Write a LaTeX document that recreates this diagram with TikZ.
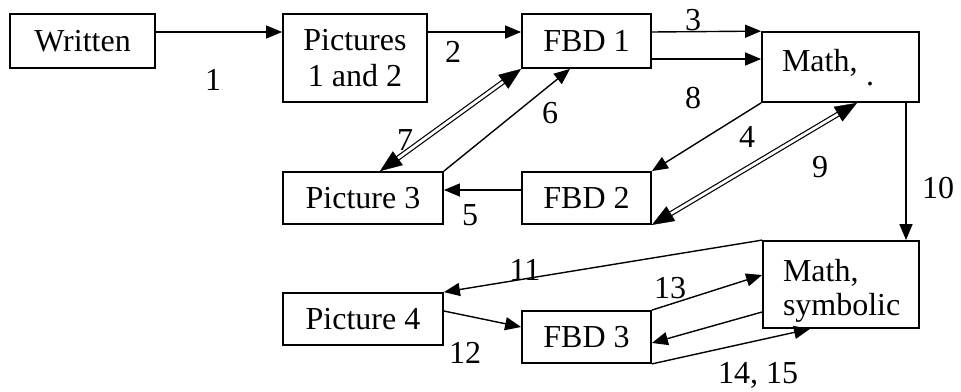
\documentclass[tikz,border=0pt]{standalone}
\usepackage{fontspec}
\setmainfont{Liberation Serif}
\usepackage{tikz}
\usetikzlibrary{arrows.meta,positioning}

\begin{document}
\begin{tikzpicture}[
  x=1pt, y=-1pt,
  font=\fontsize{32}{36}\selectfont,
  box/.style={draw, line width=1.8pt, inner sep=0pt, align=center},
  mathbox/.style={draw, line width=1.8pt, inner xsep=20pt, inner ysep=0pt, align=left},
  arr/.style={-{Triangle[length=16pt,width=13pt]}, line width=1.4pt},
  dblline/.style={double, double distance=2.8pt, line width=1.2pt,
                  shorten <=19pt, shorten >=19pt},
  dbltips/.style={tips, {Triangle[length=22pt,width=17pt]}-{Triangle[length=22pt,width=17pt]}},
  num/.style={inner sep=0pt}]
\useasboundingbox (0,0) rectangle (961,391);
% top row
\node[box, minimum width=145pt, minimum height=54pt] (written) at (82.5,41) {Written};
\node[box, minimum width=144pt, minimum height=88pt] (pic12) at (355,58) {Pictures\\1 and 2};
\node[box, minimum width=129pt, minimum height=54pt] (fbd1) at (586.5,41) {FBD 1};
\node[mathbox, minimum width=157pt, minimum height=70pt, text width=117pt] (mathnum) at (840.5,67)
  {\raisebox{-4pt}[\height][\depth]{\begin{tabular}{@{}l@{}}Math,\\[-22pt]\hspace*{84pt}.\end{tabular}}};
% middle row
\node[box, minimum width=160pt, minimum height=52pt] (pic3) at (363,198) {Picture 3};
\node[box, minimum width=129pt, minimum height=52pt] (fbd2) at (586.5,198) {FBD 2};
% bottom rows
\node[mathbox, minimum width=156pt, minimum height=87pt, text width=116pt] (mathsym) at (841,284.5)
  {\raisebox{-7pt}[\height][\depth]{\begin{tabular}{@{}l@{}}Math,\\[-2pt]symbolic\end{tabular}}};
\node[box, minimum width=160pt, minimum height=52pt] (pic4) at (363,319) {Picture 4};
\node[box, minimum width=129pt, minimum height=52pt] (fbd3) at (586.5,337) {FBD 3};
% arrows
\draw[arr] ([yshift=9pt]written.east) -- ([yshift=26pt]pic12.west);
\draw[arr] ([yshift=26pt]pic12.east) -- ([yshift=9pt]fbd1.west);
\draw[arr] ([yshift=9pt]fbd1.east) -- (mathnum.north west);
\draw[arr] ([yshift=-18pt]fbd1.east) -- ([yshift=8pt]mathnum.west);
\draw[arr] (mathnum.south west) -- (fbd2.north east);
\draw[dblline] (fbd2.south east) -- ([xshift=16.5pt]mathnum.south);
\path[dbltips] (fbd2.south east) -- ([xshift=16.5pt]mathnum.south);
\draw[arr] ([yshift=8pt]fbd2.west) -- ([yshift=8pt]pic3.east);
\draw[arr] (pic3.north east) -- ([xshift=-16.5pt]fbd1.south);
\draw[dblline] ([xshift=17pt]pic3.north) -- (fbd1.south west);
\path[dbltips] ([xshift=17pt]pic3.north) -- (fbd1.south west);
\draw[arr] ([xshift=65.5pt]mathnum.south) -- ([xshift=65pt]mathsym.north);
\draw[arr] (mathsym.north west) -- (pic4.north east);
\draw[arr] ([yshift=8pt]pic4.east) -- ([yshift=10pt]fbd3.west);
\draw[arr] (fbd3.north east) -- ([yshift=9.5pt]mathsym.west);
\draw[arr] ([yshift=-27.5pt]mathsym.west) -- ([yshift=-6pt]fbd3.east);
\draw[arr] (fbd3.south east) -- ([xshift=-31pt]mathsym.south);
% numbers
\node[num] (n1) at (213,80) {1};
\node[num] (n2) at (453,52) {2};
\node[num] (n3) at (693,20) {3};
\node[num] (n8) at (693,98) {8};
\node[num] (n6) at (550,113) {6};
\node[num] (n4) at (747,137) {4};
\node[num] (n7) at (405,140) {7};
\node[num] (n9) at (820,167) {9};
\node[num] (n10) at (938,188) {10};
\node[num] (n5) at (470,215) {5};
\node[num] (n11) at (525,270) {11};
\node[num] (n13) at (670,288) {13};
\node[num] (n12) at (465,353) {12};
\node[num] (n14) at (758,375) {14, 15};
\end{tikzpicture}
\end{document}
